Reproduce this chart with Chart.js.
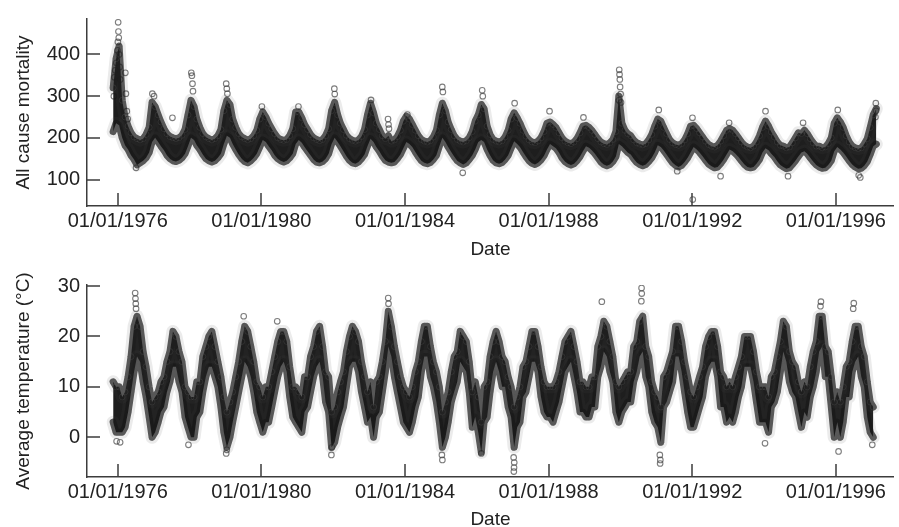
<!DOCTYPE html>
<html>
<head>
<meta charset="utf-8">
<script src="https://cdn.jsdelivr.net/npm/chart.js@4.4.1/dist/chart.umd.min.js"></script>
<style>
  html, body { margin: 0; padding: 0; background: #fff; }
  canvas { position: absolute; left: 0; }
  #top { top: 0; }
  #bot { top: 260px; }
</style>
</head>
<body>
<canvas id="top" width="899" height="260" style="width:899px;height:260px"></canvas>
<canvas id="bot" width="899" height="267" style="width:899px;height:267px"></canvas>
<script>
// monthly band of the daily values, first month = Nov 1975
const mortHigh = [
  320, 390,
  420, 290, 250, 228, 212, 202, 198, 195, 198, 208, 225, 285,
  275, 255, 238, 222, 210, 203, 200, 198, 200, 206, 220, 255,
  290, 275, 245, 225, 210, 202, 198, 195, 198, 205, 220, 265,
  290, 280, 245, 225, 210, 202, 198, 195, 198, 205, 218, 245,
  262, 250, 235, 222, 210, 200, 196, 194, 196, 205, 222, 262,
  262, 248, 232, 220, 208, 200, 196, 193, 196, 205, 222, 265,
  285, 255, 235, 220, 206, 198, 194, 192, 195, 203, 220, 255,
  283, 260, 235, 220, 205, 198, 205, 192, 195, 203, 218, 240,
  252, 245, 232, 218, 205, 196, 192, 190, 193, 202, 218, 255,
  283, 265, 238, 220, 205, 196, 192, 190, 193, 200, 215, 240,
  255, 280, 270, 228, 208, 196, 192, 190, 193, 202, 218, 245,
  260, 248, 235, 218, 204, 195, 190, 188, 192, 200, 215, 235,
  238, 232, 225, 212, 200, 192, 188, 186, 190, 198, 212, 228,
  230, 225, 218, 208, 198, 190, 186, 184, 188, 196, 215, 300,
  235, 218, 210, 205, 195, 188, 185, 183, 186, 195, 208, 228,
  245, 240, 225, 210, 196, 188, 184, 182, 186, 195, 210, 228,
  230, 222, 212, 202, 192, 184, 180, 178, 182, 192, 205, 218,
  222, 218, 210, 200, 190, 182, 178, 176, 180, 190, 205, 225,
  240, 228, 214, 202, 190, 182, 180, 176, 178, 188, 200, 212,
  210, 218, 210, 198, 188, 180, 180, 176, 178, 186, 200, 235,
  248, 238, 225, 205, 190, 180, 176, 174, 176, 185, 198, 225,
  255, 270
];
const mortLow = [
  215, 235,
  230, 200, 182, 172, 158, 148, 135, 140, 145, 152, 165, 190,
  200, 190, 180, 170, 158, 150, 145, 143, 146, 152, 162, 180,
  200, 195, 182, 172, 160, 150, 145, 142, 145, 152, 162, 185,
  205, 200, 185, 172, 160, 150, 143, 140, 145, 152, 162, 178,
  195, 190, 180, 170, 158, 150, 145, 142, 145, 152, 162, 185,
  195, 188, 178, 168, 158, 148, 142, 140, 143, 150, 162, 185,
  200, 190, 180, 168, 156, 146, 140, 138, 142, 150, 160, 180,
  198, 190, 178, 168, 156, 146, 142, 140, 142, 150, 160, 175,
  190, 185, 178, 166, 155, 145, 140, 138, 141, 148, 158, 180,
  200, 190, 178, 166, 155, 145, 140, 136, 140, 148, 158, 172,
  190, 195, 190, 172, 158, 146, 140, 138, 141, 148, 158, 175,
  192, 185, 178, 166, 155, 145, 139, 136, 140, 147, 157, 172,
  185, 180, 175, 165, 152, 143, 138, 135, 138, 145, 155, 168,
  180, 176, 170, 162, 152, 142, 136, 133, 136, 143, 155, 185,
  180, 172, 165, 160, 150, 141, 136, 133, 136, 143, 152, 165,
  182, 178, 170, 160, 150, 140, 134, 130, 134, 142, 152, 165,
  178, 172, 165, 156, 146, 137, 132, 128, 130, 138, 148, 160,
  172, 168, 162, 154, 145, 136, 130, 128, 130, 138, 148, 165,
  175, 170, 162, 154, 144, 135, 130, 126, 128, 136, 145, 155,
  165, 168, 162, 152, 143, 135, 130, 127, 128, 135, 145, 168,
  178, 172, 165, 155, 145, 136, 130, 126, 127, 133, 143, 160,
  180, 185
];
const mortExtraDates = [
  '1975-11-22', '1975-11-28', '1975-12-06', '1975-12-18', '1975-12-28', '1976-01-02',
  '1976-01-05', '1976-01-08', '1976-01-11', '1976-01-14', '1976-01-20', '1976-01-26',
  '1976-03-18', '1976-03-24', '1976-04-02', '1976-04-12', '1976-07-05', '1976-12-18',
  '1977-01-04', '1977-07-10', '1978-01-18', '1978-01-24', '1978-01-30', '1978-02-04',
  '1979-01-08', '1979-01-14', '1979-01-20', '1980-01-06', '1981-01-12', '1982-01-12',
  '1982-01-16', '1983-01-20', '1983-07-12', '1983-07-17', '1983-07-22', '1984-01-25',
  '1985-01-14', '1985-01-20', '1985-08-10', '1986-02-24', '1986-03-02', '1987-01-20',
  '1988-01-10', '1988-12-20', '1989-12-16', '1989-12-19', '1989-12-22', '1989-12-25',
  '1989-12-28', '1990-01-02', '1990-01-06', '1991-01-25', '1991-08-01', '1992-01-03',
  '1992-01-06', '1992-10-15', '1993-01-10', '1994-01-15', '1994-09-01', '1995-02-01',
  '1996-01-20', '1996-08-20', '1996-09-05', '1997-02-06', '1997-02-10', '1997-02-13'
];
const mortExtraValues = [
  300, 345, 362, 380, 410, 430,
  477, 455, 440, 400, 370, 340,
  356, 306, 264, 245, 128, 306,
  300, 248, 356, 349, 330, 312,
  330, 318, 306, 275, 275, 318,
  305, 291, 245, 232, 222, 256,
  322, 310, 116, 314, 300, 283,
  264, 249, 290, 363, 352, 340,
  322, 305, 285, 267, 120, 248,
  52, 108, 236, 264, 108, 236,
  267, 110, 105, 250, 283, 265
];

const tempHigh = [
  11, 10,
  10, 8, 9, 12, 16, 22, 24, 22, 17, 14, 10, 7,
  8, 9, 11, 12, 15, 17, 21, 20, 17, 15, 10, 9,
  8, 8, 11, 11, 16, 18, 20, 21, 18, 15, 12, 8,
  5, 7, 9, 12, 15, 19, 22, 21, 18, 15, 11, 10,
  8, 10, 10, 13, 16, 19, 21, 21, 19, 14, 10, 10,
  9, 8, 12, 12, 16, 18, 21, 22, 18, 13, 12, 5,
  6, 9, 11, 13, 17, 20, 22, 21, 19, 15, 12, 9,
  11, 6, 11, 12, 15, 19, 25, 22, 18, 15, 12, 10,
  9, 8, 10, 13, 15, 19, 22, 22, 18, 15, 13, 10,
  5, 7, 9, 13, 16, 17, 21, 20, 19, 15, 9, 11,
  8, 3, 10, 11, 16, 19, 21, 19, 16, 15, 12, 10,
  6, 8, 10, 14, 15, 18, 21, 21, 18, 14, 11, 10,
  10, 10, 11, 13, 16, 19, 20, 21, 18, 15, 11, 11,
  10, 10, 12, 12, 18, 20, 23, 22, 19, 16, 11, 10,
  11, 12, 13, 13, 18, 19, 23, 24, 18, 16, 11, 9,
  8, 6, 12, 13, 15, 17, 22, 22, 19, 15, 12, 9,
  8, 10, 12, 14, 18, 20, 21, 21, 18, 13, 12, 10,
  11, 10, 12, 14, 16, 20, 20, 20, 17, 13, 10, 10,
  10, 8, 12, 13, 16, 19, 23, 22, 17, 15, 14, 11,
  9, 11, 10, 14, 17, 19, 24, 24, 18, 17, 12, 7,
  9, 7, 10, 14, 15, 19, 22, 22, 18, 16, 11, 7,
  6
];
const tempLow = [
  3, 1,
  1, 1, 2, 5, 9, 13, 16, 15, 11, 8, 4, 0,
  1, 3, 5, 6, 9, 11, 14, 14, 11, 9, 4, 2,
  0, 0, 4, 5, 9, 12, 14, 14, 12, 10, 6, 1,
  -2, 0, 3, 6, 9, 12, 15, 14, 12, 9, 5, 3,
  1, 3, 3, 6, 9, 12, 14, 15, 13, 8, 4, 3,
  2, 1, 5, 6, 9, 12, 14, 15, 12, 7, 5, -2,
  -1, 2, 4, 6, 10, 14, 15, 15, 13, 9, 6, 3,
  4, 0, 4, 5, 9, 13, 18, 16, 12, 9, 6, 3,
  2, 1, 3, 6, 8, 13, 16, 16, 12, 10, 7, 3,
  -2, 0, 3, 7, 9, 11, 15, 14, 13, 9, 2, 4,
  1, -3, 3, 4, 9, 13, 15, 13, 10, 10, 6, 4,
  -2, 2, 3, 8, 9, 12, 15, 15, 13, 8, 5, 4,
  4, 3, 5, 7, 10, 13, 14, 15, 12, 9, 5, 5,
  4, 4, 6, 6, 12, 14, 17, 16, 13, 11, 5, 3,
  5, 6, 7, 7, 11, 13, 16, 17, 12, 10, 5, 3,
  2, -1, 6, 7, 9, 11, 16, 16, 13, 9, 5, 2,
  2, 4, 6, 8, 12, 14, 15, 15, 12, 6, 6, 3,
  4, 3, 5, 8, 10, 14, 14, 14, 11, 7, 3, 3,
  3, 1, 6, 7, 9, 13, 17, 15, 11, 9, 8, 5,
  2, 5, 4, 8, 10, 13, 17, 18, 12, 12, 6, 0,
  3, 0, 3, 8, 8, 13, 15, 16, 12, 10, 4, 1,
  0
];
const tempExtraDates = [
  '1975-12-20', '1976-01-25', '1976-06-26', '1976-06-29', '1976-07-02', '1976-07-05',
  '1977-12-20', '1979-01-08', '1979-01-14', '1979-07-05', '1980-06-10', '1981-12-13',
  '1981-12-18', '1983-07-14', '1983-07-17', '1985-01-10', '1985-01-15', '1986-02-15',
  '1987-01-10', '1987-01-12', '1987-01-14', '1987-01-16', '1989-06-25', '1990-08-01',
  '1990-08-03', '1990-08-05', '1991-02-05', '1991-02-08', '1991-02-10', '1994-01-10',
  '1995-07-28', '1995-08-02', '1996-01-28', '1996-06-25', '1996-07-01', '1997-01-05'
];
const tempExtraValues = [
  -0.8, -1, 28.6, 27.5, 26.5, 25.5,
  -1.5, -3.2, -2.5, 24, 23, -3.5,
  -2, 27.6, 26.5, -3.5, -4.5, -3.2,
  -4, -6.8, -6, -5, 26.9, 27,
  29.6, 28.5, -3.5, -5.2, -4.5, -1.2,
  26, 26.9, -2.8, 25.5, 26.6, -1.5
];

const tickYears = [1976, 1980, 1984, 1988, 1992, 1996];
const mortTicks = [100, 200, 300, 400];
const tempTicks = [0, 10, 20, 30];

// x = days since 01/01/1976
const DAY = 86400000, T0 = Date.UTC(1976, 0, 1);
const monthX = i => { const k = 10 + i; return (Date.UTC(1975 + Math.floor(k / 12), k % 12, 15) - T0) / DAY; };
const dateX = s => (Date.parse(s) - T0) / DAY;
const xTicks = tickYears.map(y => (Date.UTC(y, 0, 1) - T0) / DAY);

const axisColor = '#3c3c3c';
const FONT = 'Liberation Sans, Arial, sans-serif';

const inwardTicks = {
  id: 'inwardTicks',
  afterDatasetsDraw(chart) {
    const { ctx, chartArea: a, scales: { x, y } } = chart;
    ctx.save();
    ctx.strokeStyle = axisColor;
    ctx.lineWidth = 1.5;
    ctx.beginPath();
    y.ticks.forEach(t => {
      const py = Math.round(y.getPixelForValue(t.value));
      ctx.moveTo(a.left, py); ctx.lineTo(a.left + 13, py);
    });
    x.ticks.forEach(t => {
      const px = Math.round(x.getPixelForValue(t.value));
      ctx.moveTo(px, a.bottom); ctx.lineTo(px, a.bottom - 13);
    });
    ctx.stroke();
    ctx.restore();
  }
};

// dense core + soft halo on the band edges
function band(hi, lo) {
  const hiPts = hi.map((v, i) => ({ x: monthX(i), y: v }));
  const loPts = lo.map((v, i) => ({ x: monthX(i), y: v }));
  const halo = {
    borderColor: 'rgba(70,70,70,0.11)', borderWidth: 13, tension: 0,
    borderJoinStyle: 'round', borderCapStyle: 'round', pointRadius: 0, fill: false
  };
  const edge = {
    borderColor: 'rgba(25,25,25,0.72)', borderWidth: 7, tension: 0,
    borderJoinStyle: 'round', borderCapStyle: 'round',
    pointRadius: 3, pointBorderWidth: 1,
    pointBorderColor: 'rgba(90,90,90,0.3)', pointBackgroundColor: 'rgba(0,0,0,0)'
  };
  return [
    Object.assign({ data: hiPts }, halo),
    Object.assign({ data: loPts }, halo),
    Object.assign({ data: hiPts, fill: '+1', backgroundColor: 'rgba(18,18,18,0.95)' }, edge),
    Object.assign({ data: loPts, fill: false }, edge)
  ];
}

function extras(dates, values) {
  return {
    data: dates.map((d, i) => ({ x: dateX(d), y: values[i] })),
    showLine: false, pointRadius: 2.8, pointBorderWidth: 1.1,
    pointBorderColor: 'rgba(70,70,70,0.7)', pointBackgroundColor: 'rgba(0,0,0,0)'
  };
}

function makeChart(id, opt) {
  return new Chart(document.getElementById(id), {
    type: 'line',
    data: { datasets: opt.datasets },
    plugins: [inwardTicks],
    options: {
      responsive: false, animation: false, events: [],
      layout: { padding: { top: opt.top, right: 0, bottom: 0, left: 0 } },
      plugins: { legend: { display: false }, tooltip: { enabled: false } },
      scales: {
        x: {
          type: 'linear', min: -313, max: 7895,
          afterBuildTicks: s => { s.ticks = xTicks.map(v => ({ value: v })); },
          afterFit: s => { s.height = opt.xHeight; },
          grid: { display: false, tickLength: 0 },
          border: { display: true, color: axisColor, width: 1.5 },
          ticks: {
            color: '#222', font: { family: FONT, size: 20 }, padding: opt.xPad, maxRotation: 0,
            callback: v => '01/01/' + tickYears[xTicks.indexOf(v)]
          },
          title: {
            display: true, text: 'Date', color: '#222',
            font: { family: FONT, size: 19, lineHeight: 1 },
            padding: { top: 0, bottom: opt.titlePad }
          }
        },
        y: {
          min: opt.yMin, max: opt.yMax,
          afterBuildTicks: s => { s.ticks = opt.yTicks.map(v => ({ value: v })); },
          afterFit: s => { s.width = 87; },
          grid: { display: false, tickLength: 0 },
          border: { display: true, color: axisColor, width: 1.5 },
          ticks: { color: '#222', font: { family: FONT, size: 20 }, padding: 7 },
          title: {
            display: true, text: opt.yTitle, color: '#222',
            font: { family: FONT, size: 19 }, padding: { top: 12, bottom: 0 }
          }
        }
      }
    }
  });
}

makeChart('top', {
  datasets: band(mortHigh, mortLow).concat([extras(mortExtraDates, mortExtraValues)]),
  top: 13, xHeight: 54, xPad: 3, titlePad: 1,
  yMin: 36.5, yMax: 485, yTicks: mortTicks, yTitle: 'All cause mortality'
});

makeChart('bot', {
  datasets: band(tempHigh, tempLow).concat([extras(tempExtraDates, tempExtraValues)]),
  top: 25, xHeight: 50, xPad: 3, titlePad: -2,
  yMin: -7.88, yMax: 30.2, yTicks: tempTicks, yTitle: 'Average temperature (\u00B0C)'
});
</script>
</body>
</html>
